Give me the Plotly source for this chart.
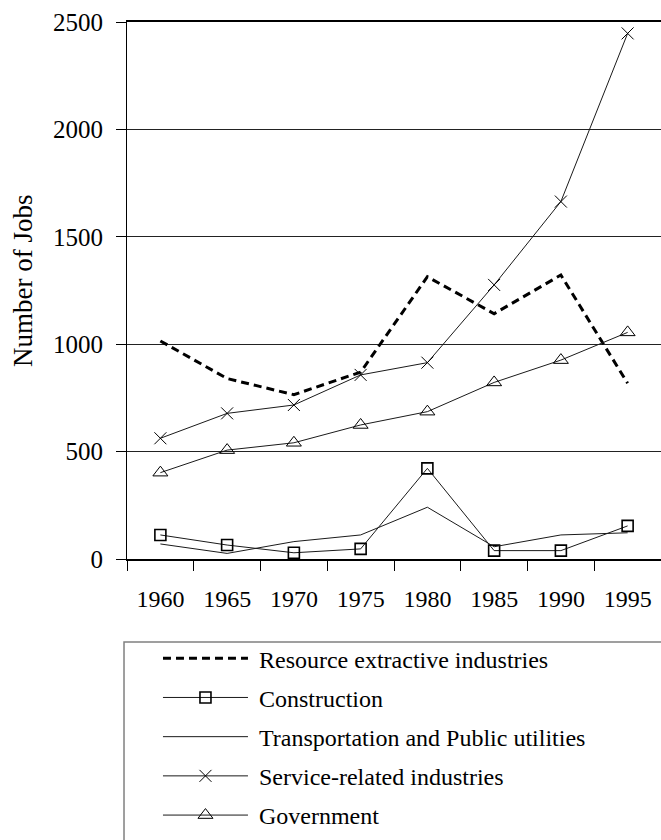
import plotly.graph_objects as go

years = ["1960", "1965", "1970", "1975", "1980", "1985", "1990", "1995"]
resource = [1015, 840, 765, 870, 1314, 1142, 1322, 818]
construction = [112, 65, 29, 47, 422, 39, 39, 154]
transportation = [70, 26, 81, 112, 241, 57, 112, 122]
service = [562, 678, 717, 857, 914, 1276, 1664, 2447]
government = [402, 507, 541, 624, 686, 822, 926, 1055]

FONT = "Liberation Serif, Times New Roman, serif"
LINE = "#1a1a1a"
SP = "\u00a0"

fig = go.Figure()
fig.add_trace(go.Scatter(x=years, y=resource, mode="lines", name=SP + "Resource extractive industries",
                         line=dict(color="black", width=3, dash="8px,5px"), legendgroup="a"))
fig.add_trace(go.Scatter(x=years, y=construction, mode="lines+markers", name=SP + "Construction",
                         line=dict(color=LINE, width=1),
                         marker=dict(symbol="square-open", size=11, color="black", line=dict(width=1.6)),
                         legendgroup="b"))
fig.add_trace(go.Scatter(x=years, y=transportation, mode="lines", name=SP + "Transportation and Public utilities",
                         line=dict(color=LINE, width=1), legendgroup="c"))
fig.add_trace(go.Scatter(x=years, y=service, mode="lines+markers", name=SP + "Service-related industries",
                         line=dict(color=LINE, width=1),
                         marker=dict(symbol="x-thin-open", size=12, color="black", line=dict(width=1, color="black")),
                         legendgroup="d"))
fig.add_trace(go.Scatter(x=years, y=government, mode="lines+markers", name=SP + "Government",
                         line=dict(color=LINE, width=1),
                         marker=dict(symbol="triangle-up-open", size=13, color="black", line=dict(width=1)),
                         legendgroup="e"))

fig.update_layout(
    width=661, height=840,
    margin=dict(l=127, r=0, t=22, b=281, pad=0),
    paper_bgcolor="white", plot_bgcolor="white",
    font=dict(family=FONT, size=24, color="black"),
    showlegend=True, hovermode=False,
    legend=dict(x=0.058, xanchor="left", y=-0.518, yanchor="bottom",
                bgcolor="rgba(0,0,0,0)", borderwidth=0,
                itemwidth=85, tracegroupgap=5,
                font=dict(family=FONT, size=24, color="black")),
    xaxis=dict(type="category", range=[-0.5, 7.5], tickson="boundaries",
               ticks="outside", ticklen=10, tickwidth=1, tickcolor="black",
               showline=True, linewidth=2, linecolor="black", mirror=True,
               showgrid=False, ticklabelstandoff=17,
               tickfont=dict(family=FONT, size=24)),
    yaxis=dict(range=[0, 2500], dtick=500, tick0=0,
               ticks="outside", ticklen=10, tickwidth=1, tickcolor="black",
               showline=True, linewidth=1, linecolor="black",
               showgrid=True, gridcolor="#222", gridwidth=1, zeroline=False,
               ticklabelstandoff=8,
               tickfont=dict(family=FONT, size=25)),
    annotations=[dict(text="Number of Jobs", xref="paper", yref="paper",
                      x=-0.1948, y=0.5177, xanchor="center", yanchor="middle",
                      textangle=-90, showarrow=False,
                      font=dict(family=FONT, size=27, color="black"))],
    shapes=[dict(type="rect", xref="paper", yref="paper",
                 x0=-0.0056, x1=1.02, y0=-0.1546, y1=-0.6,
                 line=dict(color="#808080", width=1.5), fillcolor="rgba(0,0,0,0)")],
)

post = ("document.body.style.margin='0';document.body.style.overflow='hidden';"
        "var gd=document.getElementById('{plot_id}');"
        "Plotly.relayout(gd,{width:661,height:840});")
fig.write_html("out.html", post_script=post, config={"displayModeBar": False})
